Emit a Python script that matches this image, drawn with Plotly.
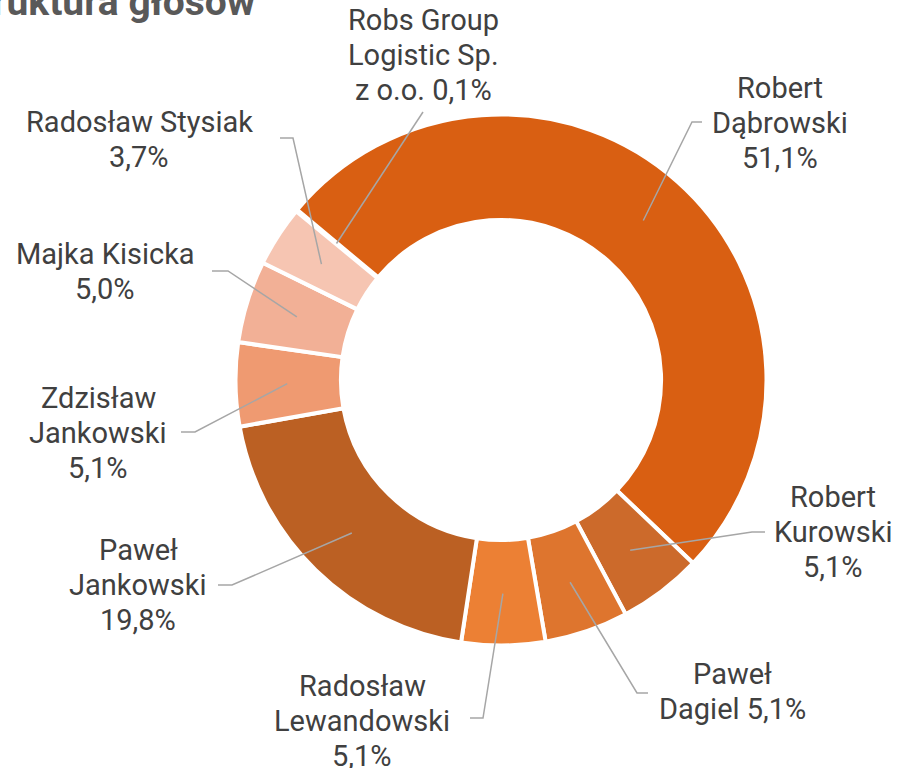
import math
import plotly.graph_objects as go

# ---- data ----
names = ["Robs Group Logistic Sp. z o.o.", "Robert Dąbrowski", "Robert Kurowski", "Paweł Dagiel",
         "Radosław Lewandowski", "Paweł Jankowski", "Zdzisław Jankowski", "Majka Kisicka",
         "Radosław Stysiak"]
shares = [0.1, 51.1, 5.1, 5.1, 5.1, 19.8, 5.1, 5.0, 3.7]
label_lines = [["Robs Group", "Logistic Sp.", "z o.o. 0,1%"], ["Robert", "Dąbrowski", "51,1%"],
               ["Robert", "Kurowski", "5,1%"], ["Paweł", "Dagiel 5,1%"],
               ["Radosław", "Lewandowski", "5,1%"], ["Paweł", "Jankowski", "19,8%"],
               ["Zdzisław", "Jankowski", "5,1%"], ["Majka Kisicka", "5,0%"], ["Radosław Stysiak", "3,7%"]]
title_text = "Struktura głosów"

# ---- styles / layout ----
colors = ["#F8D3C2", "#D95F12", "#CC6A2B", "#DE752E", "#EC8034", "#BB6023", "#EF9A71", "#F2B096", "#F6C5B2"]
W, H = 897, 768
CX, CY, R = 501, 380, 265.5
HOLE = 0.603
ROT = 309.5
# label x centre and first-line y centre (px), line step, and leader-line bend points (px)
text_x = [423, 780, 833, 732, 362, 138, 98, 105, 139]
text_y0 = [20, 88, 497, 674, 686, 550, 398, 254, 122]
LINE_STEP = 35
bends = [[(423, 112)], [(692, 122), (702, 122)], [(752, 532), (765, 532)], [(637, 693), (648, 693)],
         [(483, 718), (470, 718)], [(232, 585), (218, 585)], [(195, 432), (181, 432)],
         [(228, 271), (212, 271)], [(293, 138), (280, 138)]]
ANCHOR_R = 0.805


def px(x):
    return x / W


def py(y):
    return 1 - y / H


fig = go.Figure()
fig.add_trace(go.Pie(
    labels=names, values=shares, sort=False, direction="clockwise", rotation=ROT,
    hole=HOLE, textinfo="none", hoverinfo="label+percent",
    marker=dict(colors=colors, line=dict(color="white", width=4)),
    domain=dict(x=[px(CX - R), px(CX + R)], y=[py(CY + R), py(CY - R)]),
    showlegend=False,
))

total = sum(shares)
cum = 0.0
shapes = []
annotations = []
for i, v in enumerate(shares):
    mid = ROT + (cum + v / 2) / total * 360
    cum += v
    a = math.radians(mid)
    ax = CX + ANCHOR_R * R * math.sin(a)
    ay = CY - ANCHOR_R * R * math.cos(a)
    pts = [(ax, ay)] + bends[i]
    path = "M " + " L ".join(f"{px(x):.5f},{py(y):.5f}" for x, y in pts)
    shapes.append(dict(type="path", path=path, xref="paper", yref="paper",
                       line=dict(color="#A6A6A6", width=1.5)))
    for k, line in enumerate(label_lines[i]):
        annotations.append(dict(text=line, x=px(text_x[i]), y=py(text_y0[i] + k * LINE_STEP),
                                xref="paper", yref="paper", xanchor="center", yanchor="middle",
                                showarrow=False,
                                font=dict(family="Roboto", size=29, color="#404040")))

annotations.append(dict(text=f"<b>{title_text}</b>", x=px(258), y=py(2), xref="paper", yref="paper",
                        xanchor="right", yanchor="middle", showarrow=False,
                        font=dict(family="Roboto", size=39, color="#595959")))

fig.update_layout(
    width=W, height=H, margin=dict(l=0, r=0, t=0, b=0),
    paper_bgcolor="white", plot_bgcolor="white",
    shapes=shapes, annotations=annotations,
)
fig.write_html("out.html", config={"displayModeBar": False},
               post_script="document.body.style.margin='0';")
